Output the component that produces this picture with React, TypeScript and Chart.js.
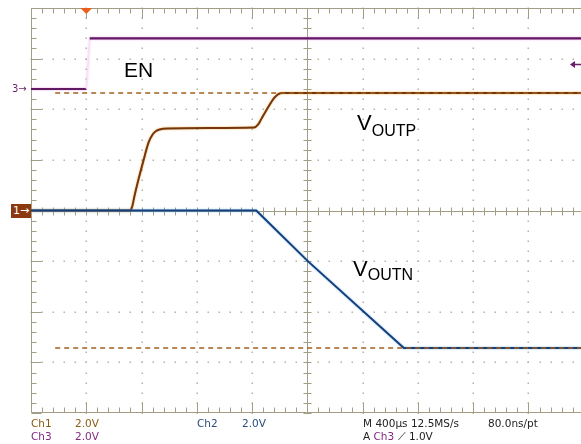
import React, { useEffect, useRef } from "react";
import { Chart, registerables } from "chart.js";

Chart.register(...registerables);

// ---- scope settings ----
const VOLTS_PER_DIV = 2.0;
const US_PER_DIV = 400;
const X_MIN_US = -400;
const X_MAX_US = 3580;
const Y_DIVS = 4;
const CH3_POSITION_DIV = 2.4;
const TRIGGER_LEVEL_V = 1.0;

// ---- traces (time in µs from trigger, value in volts) ----
const VOUTP_TIME_US = [-400, 318, 332, 350, 378, 415, 451, 480, 505, 530, 589, 900, 1215, 1244, 1265, 1316, 1360, 1390, 1420, 3580];
const VOUTP_VOLTS = [0, 0, 0.15, 0.6, 1.23, 2.0, 2.69, 3.0, 3.14, 3.2, 3.24, 3.26, 3.28, 3.4, 3.6, 4.08, 4.45, 4.6, 4.64, 4.64];

const VOUTN_TIME_US = [-400, 1230, 1607, 2298, 3580];
const VOUTN_VOLTS = [0, 0, -2.02, -5.43, -5.43];

const EN_TIME_US = [-400, 0, 25, 3580];
const EN_VOLTS = [0, 0, 2.0, 2.0];

const CURSOR_START_US = -225;
const CURSOR_LEVELS_V = [4.64, -5.43];

const toDiv = (v: number) => v / VOLTS_PER_DIV;
const pts = (t: number[], v: number[], off = 0) => t.map((x, i) => ({ x, y: toDiv(v[i]) + off }));

const haloPlugin = {
  id: "halo",
  beforeDatasetDraw(chart: any, args: any) {
    const ds: any = chart.data.datasets[args.index];
    const ctx = chart.ctx;
    ctx.save();
    if (ds.halo) {
      ctx.shadowColor = ds.halo;
      ctx.shadowBlur = 2;
    }
  },
  afterDatasetDraw(chart: any) {
    chart.ctx.restore();
  },
};

const gridPlugin = {
  id: "scopeGrid",
  beforeDatasetsDraw(chart: any) {
    const ctx = chart.ctx;
    const { left, top, right, bottom } = chart.chartArea;
    const xs = chart.scales.x;
    const ys = chart.scales.y;
    const gx = (t: number) => xs.getPixelForValue(t);
    const gy = (d: number) => ys.getPixelForValue(d);
    ctx.save();
    // dots
    ctx.fillStyle = "#b6b4a0";
    for (let i = 1; i <= 9; i++) {
      if (i === 5) continue;
      const x = Math.round(gx(X_MIN_US + i * US_PER_DIV));
      for (let k = 0; k <= Y_DIVS * 2 * 5; k++) {
        const y = Math.round(gy(-Y_DIVS + k * 0.2));
        ctx.fillRect(x - 0.5, y - 0.5, 1.5, 1.5);
      }
    }
    for (let j = -3; j <= 3; j++) {
      if (j === 0) continue;
      const y = Math.round(gy(j));
      for (let m = 0; m <= 55; m++) {
        const x = Math.round(gx(X_MIN_US + m * US_PER_DIV / 5));
        if (x > right) break;
        ctx.fillRect(x - 0.5, y - 0.5, 1.5, 1.5);
      }
    }
    ctx.strokeStyle = "#a29e86";
    ctx.lineWidth = 1;
    const line = (x1: number, y1: number, x2: number, y2: number) => {
      ctx.beginPath();
      ctx.moveTo(x1, y1);
      ctx.lineTo(x2, y2);
      ctx.stroke();
    };
    const cx = Math.round(gx(X_MIN_US + 5 * US_PER_DIV)) + 0.5;
    const cy = Math.round(gy(0)) + 0.5;
    const L = Math.round(left) + 0.5;
    const T = Math.round(top) + 0.5;
    const B = Math.round(bottom) - 0.5;
    // borders and center cross
    line(L, T, L, B);
    line(L, T, right, T);
    line(L, B, right, B);
    line(cx, T, cx, B);
    line(L, cy, right, cy);
    for (let k = 0; k <= Y_DIVS * 2 * 5; k++) {
      const y = Math.round(gy(-Y_DIVS + k * 0.2)) + 0.5;
      const major = k % 5 === 0;
      line(L, y, L + (major ? 10 : 5), y);
      line(cx - 4, y, cx + 4, y);
    }
    for (let m = 0; m <= 55; m++) {
      const x = Math.round(gx(X_MIN_US + m * US_PER_DIV / 5)) + 0.5;
      if (x > right) break;
      const major = m % 5 === 0;
      line(x, T, x, T + (major ? 10 : 5));
      line(x, B, x, B - (major ? 10 : 5));
      line(x, cy - 4, x, cy + 4);
    }
    ctx.restore();
  },
  afterDatasetsDraw(chart: any) {
    const ctx = chart.ctx;
    const { top, right } = chart.chartArea;
    const xs = chart.scales.x;
    const ys = chart.scales.y;
    ctx.save();
    // trigger position marker
    const tx = xs.getPixelForValue(0);
    ctx.fillStyle = "#e8601c";
    ctx.beginPath();
    ctx.moveTo(tx - 6, top);
    ctx.lineTo(tx + 6, top);
    ctx.lineTo(tx, top + 6);
    ctx.closePath();
    ctx.fill();
    // trigger level arrow
    const ty = Math.round(ys.getPixelForValue(CH3_POSITION_DIV + toDiv(TRIGGER_LEVEL_V))) + 0.5;
    ctx.strokeStyle = "#6b1f6b";
    ctx.fillStyle = "#6b1f6b";
    ctx.lineWidth = 1.5;
    ctx.beginPath();
    ctx.moveTo(right - 8, ty);
    ctx.lineTo(right, ty);
    ctx.stroke();
    ctx.beginPath();
    ctx.moveTo(right - 11, ty);
    ctx.lineTo(right - 6, ty - 3.5);
    ctx.lineTo(right - 6, ty + 3.5);
    ctx.closePath();
    ctx.fill();
    ctx.restore();
  },
};

const txt = (left: number, top: number, size: number, color: string, family: string) =>
  ({
    position: "absolute",
    left,
    top,
    fontSize: size,
    lineHeight: 1,
    color,
    fontFamily: family,
    whiteSpace: "nowrap",
  } as React.CSSProperties);

const SANS = "'Liberation Sans', Arial, sans-serif";
const SMALL = "'DejaVu Sans', sans-serif";

export default function App() {
  const ref = useRef<HTMLCanvasElement>(null);
  useEffect(() => {
    if (!ref.current) return;
    const cursorData = CURSOR_LEVELS_V.map((v) => [
      { x: CURSOR_START_US, y: toDiv(v) },
      { x: X_MAX_US, y: toDiv(v) },
    ]);
    const isEdge = (c: any) => Math.abs(c.p1.parsed.x - c.p0.parsed.x) < 60;
    const chart = new Chart(ref.current, {
      type: "line",
      data: {
        datasets: [
          ...cursorData.map((d) => ({
            data: d,
            borderColor: "#a0601e",
            borderWidth: 1.5,
            borderDash: [5, 4],
            pointRadius: 0,
          })),
          {
            data: pts(EN_TIME_US, EN_VOLTS, CH3_POSITION_DIV),
            borderColor: "#5f1a62",
            halo: "rgba(235,130,235,0.8)",
            borderWidth: 2.2,
            pointRadius: 0,
            segment: {
              borderColor: (c: any) => (isEdge(c) ? "rgba(246,228,246,0.9)" : undefined),
              borderWidth: (c: any) => (isEdge(c) ? 1 : undefined),
            },
          },
          {
            data: pts(VOUTN_TIME_US, VOUTN_VOLTS),
            borderColor: "#173f7a",
            halo: "rgba(100,175,235,0.8)",
            borderWidth: 2,
            pointRadius: 0,
          },
          {
            data: pts(VOUTP_TIME_US, VOUTP_VOLTS),
            borderColor: "#74360c",
            halo: "rgba(240,160,50,0.8)",
            borderWidth: 2,
            pointRadius: 0,
            cubicInterpolationMode: "monotone",
          },
        ] as any,
      },
      options: {
        animation: false,
        responsive: false,
        layout: { padding: { left: 31, top: 8, right: 0, bottom: 31 } },
        plugins: { legend: { display: false }, tooltip: { enabled: false } },
        scales: {
          x: { type: "linear", min: X_MIN_US, max: X_MAX_US, display: false },
          y: { type: "linear", min: -Y_DIVS, max: Y_DIVS, display: false },
        },
      },
      plugins: [gridPlugin, haloPlugin],
    });
    return () => chart.destroy();
  }, []);

  return (
    <div style={{ position: "absolute", left: 0, top: 0, width: 581, height: 444, background: "#fff", overflow: "hidden" }}>
      <canvas ref={ref} width={581} height={444} style={{ position: "absolute", left: 0, top: 0 }} />
      {/* channel markers */}
      <div style={{ ...txt(11, 204, 11, "#fff", SMALL), background: "#8b3a0f", width: 20, height: 14, lineHeight: "14px", paddingLeft: 2, boxSizing: "border-box" }}>1→</div>
      <div style={txt(12, 84, 10, "#6b1f6b", SMALL)}>3→</div>
      {/* trace labels */}
      <div style={txt(124, 59, 21, "#000", SANS)}>EN</div>
      <div style={txt(357, 112, 22, "#000", SANS)}>
        V<span style={{ fontSize: 16, verticalAlign: -6 }}>OUTP</span>
      </div>
      <div style={txt(353, 258, 22, "#000", SANS)}>
        V<span style={{ fontSize: 16, verticalAlign: -4 }}>OUTN</span>
      </div>
      {/* status line */}
      <div style={txt(31, 418, 10.5, "#8a5c12", SMALL)}>Ch1</div>
      <div style={txt(75, 418, 10.5, "#8a5c12", SMALL)}>2.0V</div>
      <div style={txt(31, 431, 10.5, "#7f2a80", SMALL)}>Ch3</div>
      <div style={txt(75, 431, 10.5, "#7f2a80", SMALL)}>2.0V</div>
      <div style={txt(197, 418, 10.5, "#2d4d7d", SMALL)}>Ch2</div>
      <div style={txt(242, 418, 10.5, "#2d4d7d", SMALL)}>2.0V</div>
      <div style={txt(363, 418, 10.5, "#222", SMALL)}>M 400µs 12.5MS/s</div>
      <div style={txt(488, 418, 10.5, "#222", SMALL)}>80.0ns/pt</div>
      <div style={txt(363, 431, 10.5, "#222", SMALL)}>
        A <span style={{ color: "#7f2a80" }}>Ch3</span> ⟋ 1.0V
      </div>
    </div>
  );
}
